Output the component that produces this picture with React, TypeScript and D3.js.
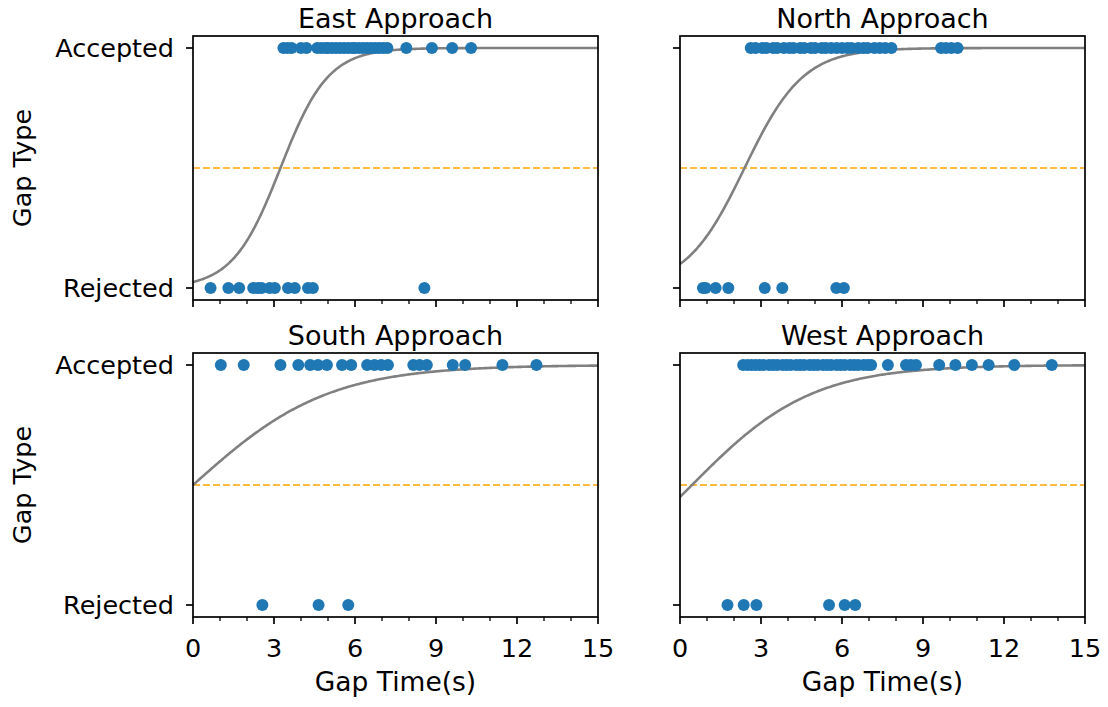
import React from "react";
import * as d3 from "d3";

const panelTitles = ["East Approach", "North Approach", "South Approach", "West Approach"];

// accepted / rejected gap times (s) per approach
const eastAccepted = [3.35, 3.5, 3.65, 4.0, 4.2, 4.6, 4.75, 4.9, 5.0, 5.15, 5.3, 5.45, 5.6, 5.75, 5.9, 6.0, 6.15, 6.3, 6.45, 6.6, 6.75, 6.9, 7.05, 7.2, 7.9, 8.85, 9.6, 10.3];
const eastRejected = [0.65, 1.31, 1.71, 2.23, 2.41, 2.54, 2.84, 3.03, 3.52, 3.77, 4.26, 4.44, 8.57];
const northAccepted = [2.62, 2.8, 3.05, 3.2, 3.45, 3.6, 3.85, 4.05, 4.2, 4.45, 4.6, 4.85, 5.0, 5.25, 5.4, 5.6, 5.8, 6.0, 6.2, 6.35, 6.6, 6.8, 6.95, 7.2, 7.4, 7.6, 7.83, 9.67, 9.85, 10.05, 10.28];
const northRejected = [0.85, 0.95, 1.32, 1.79, 3.14, 3.79, 5.79, 6.07];
const southAccepted = [1.03, 1.88, 3.24, 3.9, 4.34, 4.63, 4.96, 5.52, 5.86, 6.45, 6.72, 6.97, 7.22, 8.16, 8.39, 8.66, 9.62, 10.08, 11.46, 12.72];
const southRejected = [2.57, 4.65, 5.75];
const westAccepted = [2.34, 2.5, 2.65, 2.8, 2.95, 3.1, 3.3, 3.45, 3.6, 3.8, 3.95, 4.1, 4.3, 4.45, 4.6, 4.8, 4.95, 5.1, 5.3, 5.45, 5.6, 5.8, 5.95, 6.1, 6.3, 6.45, 6.6, 6.8, 6.95, 7.08, 7.7, 8.37, 8.55, 8.74, 9.6, 10.2, 10.81, 11.43, 12.38, 13.77];
const westRejected = [1.76, 2.36, 2.83, 5.52, 6.1, 6.49];

// logistic fit: p = 1 / (1 + exp(-(a + b*x)))
const fitIntercept = [-3.66, -2.2, 0.0, -0.2];
const fitSlope = [1.13, 0.92, 0.4, 0.45];

const acceptedSets = [eastAccepted, northAccepted, southAccepted, westAccepted];
const rejectedSets = [eastRejected, northRejected, southRejected, westRejected];

const xTicks = [0, 3, 6, 9, 12, 15];
const yTickLabels = ["Rejected", "Accepted"];

const W = 1108;
const H = 707;
const cols = [193, 680];
const rows = [36, 353];
const pw = 405;
const ph = 264;
const font = "DejaVu Sans, sans-serif";
const fs = 25.5;

const Panel = ({ i }: { i: number }) => {
  const col = i % 2;
  const row = Math.floor(i / 2);
  const left = cols[col];
  const top = rows[row];
  const x = d3.scaleLinear().domain([0, 15]).range([left, left + pw]);
  const y = d3.scaleLinear().domain([-0.05, 1.05]).range([top + ph, top]);
  const a = fitIntercept[i];
  const b = fitSlope[i];
  const xs = d3.range(0, 15.001, 0.05);
  const line = d3
    .line<number>()
    .x((d) => x(d))
    .y((d) => y(1 / (1 + Math.exp(-(a + b * d)))));
  const minor = d3.range(0, 16, 1).filter((d) => d % 3 !== 0);
  return (
    <g>
      <text x={left + pw / 2} y={top - 8} textAnchor="middle" fontSize={27} fontFamily={font}>
        {panelTitles[i]}
      </text>
      <line x1={x(0)} x2={x(15)} y1={y(0.5)} y2={y(0.5)} stroke="orange" strokeWidth={1.6} strokeDasharray="7,3" />
      <path d={line(xs) || ""} fill="none" stroke="gray" strokeWidth={2.6} />
      {acceptedSets[i].map((v, k) => (
        <circle key={"a" + k} cx={x(v)} cy={y(1)} r={6} fill="#1f77b4" />
      ))}
      {rejectedSets[i].map((v, k) => (
        <circle key={"r" + k} cx={x(v)} cy={y(0)} r={6} fill="#1f77b4" />
      ))}
      <rect x={left} y={top} width={pw} height={ph} fill="none" stroke="black" strokeWidth={1.7} />
      {xTicks.map((t) => (
        <g key={"xt" + t}>
          <line x1={x(t)} x2={x(t)} y1={top + ph} y2={top + ph + 7} stroke="black" strokeWidth={1.7} />
          {row === 1 && (
            <text x={x(t)} y={top + ph + 40} textAnchor="middle" fontSize={fs} fontFamily={font}>
              {t}
            </text>
          )}
        </g>
      ))}
      {minor.map((t) => (
        <line key={"mt" + t} x1={x(t)} x2={x(t)} y1={top + ph} y2={top + ph + 4} stroke="black" strokeWidth={1.3} />
      ))}
      {[0, 1].map((t) => (
        <g key={"yt" + t}>
          <line x1={left - 7} x2={left} y1={y(t)} y2={y(t)} stroke="black" strokeWidth={1.7} />
          {col === 0 && (
            <text x={left - 19} y={y(t)} dy="0.35em" textAnchor="end" fontSize={fs} fontFamily={font}>
              {yTickLabels[t]}
            </text>
          )}
        </g>
      ))}
      {col === 0 && (
        <text
          transform={`translate(${31},${top + ph / 2}) rotate(-90)`}
          textAnchor="middle"
          fontSize={fs}
          fontFamily={font}
        >
          Gap Type
        </text>
      )}
      {row === 1 && (
        <text x={left + pw / 2} y={top + ph + 74} textAnchor="middle" fontSize={26.5} fontFamily={font}>
          Gap Time(s)
        </text>
      )}
    </g>
  );
};

export default function App() {
  return (
    <svg
      width={W}
      height={H}
      style={{ position: "absolute", left: 0, top: 0, background: "white" }}
    >
      {[0, 1, 2, 3].map((i) => (
        <Panel key={i} i={i} />
      ))}
    </svg>
  );
}
